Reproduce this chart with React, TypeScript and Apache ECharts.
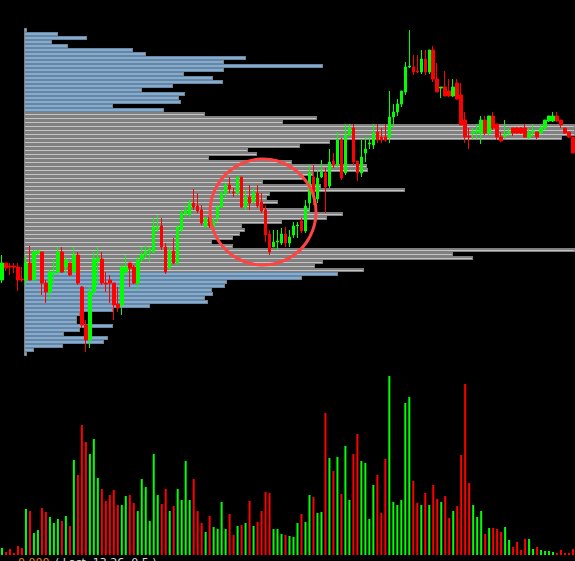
import React, { useEffect, useRef } from "react";
import * as echarts from "echarts";

// ---- candles (price) ----
const opens = [10.75,10.92,10.89,10.89,10.88,10.76,10.75,10.92,10.75,11.02,
11.03,10.72,10.63,10.82,10.83,11.03,10.88,10.92,10.83,11.00,
10.68,10.30,10.15,10.63,10.94,10.96,10.72,10.75,10.72,10.51,
10.50,10.83,10.92,10.88,10.72,10.96,11.00,11.04,11.03,11.26,
11.29,11.08,10.87,11.04,10.92,11.25,11.41,11.40,11.52,11.49,
11.45,11.28,11.38,11.28,11.37,11.48,11.62,11.70,11.63,11.62,
11.78,11.48,11.58,11.53,11.62,11.53,11.45,11.21,11.08,11.13,
11.12,11.21,11.12,11.20,11.29,11.34,11.24,11.52,11.78,11.56,
11.78,11.82,11.69,11.94,11.90,12.15,11.82,12.20,12.27,11.94,
11.82,12.02,12.11,12.10,12.23,12.18,12.18,12.18,12.38,12.43,
12.51,12.63,12.88,12.88,12.84,12.83,12.96,12.83,13.05,12.76,
12.67,12.68,12.64,12.59,12.72,12.60,12.35,12.19,12.22,12.23,
12.22,12.35,12.22,12.39,12.31,12.18,12.19,12.22,12.27,12.27,
12.27,12.27,12.18,12.23,12.23,12.22,12.27,12.34,12.34,12.39,
12.35,12.27,12.23,12.18];
const closes = [10.92,10.87,10.88,10.88,10.75,10.75,10.92,10.75,11.03,11.04,
10.72,10.63,10.83,10.83,11.03,10.83,10.95,10.80,11.00,10.72,
10.30,10.15,10.63,10.96,10.97,10.72,10.71,10.72,10.50,10.47,
10.88,10.88,10.87,10.72,10.95,11.00,11.04,11.06,11.28,11.28,
11.08,10.83,11.04,10.92,11.28,11.42,11.45,11.52,11.48,11.44,
11.32,11.37,11.29,11.34,11.48,11.62,11.70,11.66,11.62,11.78,
11.48,11.58,11.52,11.62,11.49,11.44,11.20,11.03,11.13,11.14,
11.21,11.12,11.18,11.29,11.30,11.24,11.49,11.82,11.58,11.77,
11.83,11.68,11.93,11.90,12.15,11.77,12.20,12.27,11.93,11.82,
11.98,12.06,12.12,12.22,12.15,12.15,12.15,12.38,12.43,12.51,
12.64,12.88,12.89,12.83,12.83,12.96,12.83,13.05,12.76,12.63,
12.68,12.59,12.59,12.68,12.56,12.30,12.18,12.18,12.23,12.24,
12.35,12.22,12.39,12.27,12.18,12.14,12.20,12.23,12.22,12.22,
12.22,12.18,12.22,12.24,12.18,12.27,12.35,12.39,12.39,12.34,
12.30,12.22,12.18,12.02];
const lows = [10.72,10.84,10.80,10.82,10.64,10.73,10.70,10.75,10.75,11.00,
10.60,10.52,10.55,10.70,10.80,10.82,10.82,10.79,10.82,10.70,
10.27,10.03,10.07,10.60,10.70,10.70,10.63,10.52,10.35,10.43,
10.40,10.80,10.68,10.71,10.65,10.93,10.97,10.93,11.02,11.23,
11.05,10.81,10.85,10.91,10.90,11.23,11.38,11.38,11.45,11.42,
11.30,11.27,11.27,11.26,11.33,11.47,11.58,11.62,11.58,11.60,
11.47,11.45,11.45,11.52,11.47,11.42,11.13,11.00,11.08,11.05,
11.10,11.08,11.08,11.17,11.17,11.22,11.22,11.45,11.50,11.52,
11.77,11.42,11.67,11.87,11.87,11.75,11.80,12.19,11.90,11.74,
11.78,11.93,12.06,12.06,12.12,12.12,12.13,12.12,12.27,12.39,
12.48,12.60,12.87,12.80,12.82,12.81,12.80,12.81,12.73,12.63,
12.57,12.59,12.58,12.58,12.55,12.30,12.12,12.06,12.16,12.16,
12.11,12.20,12.20,12.25,12.15,12.13,12.16,12.19,12.19,12.21,
12.21,12.17,12.15,12.19,12.16,12.21,12.25,12.33,12.33,12.33,
12.27,12.21,12.17,12.02];
const highs = [11.00,10.92,10.92,10.92,10.92,10.88,11.00,11.09,11.05,11.05,
11.03,10.75,10.85,10.95,11.08,11.08,10.98,10.92,11.08,11.03,
10.69,10.35,10.68,11.03,11.08,11.03,10.83,10.80,10.72,10.68,
10.90,11.00,10.92,10.90,10.98,11.08,11.10,11.08,11.37,11.40,
11.37,11.12,11.08,11.17,11.30,11.45,11.50,11.55,11.66,11.62,
11.50,11.38,11.40,11.37,11.50,11.65,11.72,11.78,11.67,11.78,
11.78,11.65,11.70,11.67,11.70,11.62,11.50,11.25,11.25,11.25,
11.27,11.28,11.25,11.33,11.33,11.37,11.55,11.90,11.90,11.85,
11.95,11.87,12.06,12.02,12.23,12.17,12.31,12.31,12.31,11.94,
12.15,12.18,12.18,12.31,12.31,12.27,12.31,12.64,12.51,12.56,
12.64,12.93,13.25,13.00,13.00,13.05,13.05,13.05,13.09,12.92,
12.68,12.84,12.76,12.76,12.76,12.72,12.43,12.27,12.27,12.31,
12.39,12.39,12.39,12.43,12.31,12.23,12.35,12.27,12.27,12.28,
12.28,12.31,12.27,12.31,12.23,12.31,12.35,12.39,12.43,12.43,
12.35,12.27,12.23,12.18];

// ---- volume per bar ----
const volumes = [7,3,6,2,9,7,46,44,22,25,
47,43,38,32,36,34,39,29,95,80,
130,113,101,116,77,66,54,60,65,50,
50,59,60,52,44,76,68,34,101,60,
51,66,44,49,66,55,94,55,76,44,
32,23,39,28,26,53,26,41,20,29,
30,32,54,29,33,44,63,62,26,26,
21,20,19,18,32,41,33,60,58,42,
43,142,97,84,98,61,109,55,101,121,
94,92,36,70,80,42,96,179,53,50,
55,152,158,74,52,50,62,50,70,56,
53,59,37,44,49,100,171,72,50,38,
44,21,27,27,26,23,28,15,8,13,
5,16,16,6,8,5,4,4,3,2,
5,2,2,6];

// ---- volume profile (rows from highest price to lowest) ----
const profileVolumes = [2,33,62,27,43,108,121,221,199,298,
199,159,188,198,148,117,160,154,156,88,
139,180,292,258,550,550,550,537,305,275,
223,232,184,267,342,343,288,279,238,296,
380,245,242,253,235,285,318,302,257,217,
220,215,208,187,208,550,428,448,298,290,
339,313,277,202,200,187,188,180,183,125,
88,55,52,52,88,55,39,83,79,38,
9,2];
const valueAreaFirstRow = 21;
const valueAreaLastRow = 60;

const bottomLabelA = "0.000";
const bottomLabelB = "( Last  13.26  0.5 )";

export default function App() {
  const ref = useRef<HTMLDivElement>(null);
  useEffect(() => {
    if (!ref.current) return;
    const chart = echarts.init(ref.current, null, { renderer: "svg" });
    const cats = opens.map((_, i) => String(i + 1));
    const rows = profileVolumes.map((_, i) => "r" + i);
    const candleData = opens.map((o, i) => [o, closes[i], lows[i], highs[i]]);
    const GREEN = "#00ff00";
    const RED = "#ff0000";
    const volData = volumes.map((v, i) => ({
      value: v,
      itemStyle: { color: closes[i] >= opens[i] ? GREEN : RED },
    }));
    const profData = profileVolumes.map((v, i) => [v, i]);
    const hiddenAxis = {
      axisLine: { show: false },
      axisTick: { show: false },
      axisLabel: { show: false },
      splitLine: { show: false },
    };
    chart.setOption({
      animation: false,
      backgroundColor: "#000000",
      grid: [
        { left: -1, width: 576, top: 25, height: 330 },
        { left: -1, width: 576, top: 375, height: 180 },
        { left: 25, right: 0, top: 28, height: 328 },
      ],
      xAxis: [
        { type: "category", data: cats, gridIndex: 0, boundaryGap: true, ...hiddenAxis },
        { type: "category", data: cats, gridIndex: 1, boundaryGap: true, ...hiddenAxis },
        { type: "value", gridIndex: 2, min: 0, max: 550, ...hiddenAxis },
      ],
      yAxis: [
        { type: "value", gridIndex: 0, min: 10.0, max: 13.3, ...hiddenAxis },
        { type: "value", gridIndex: 1, min: 0, max: 180, ...hiddenAxis },
        { type: "category", gridIndex: 2, data: rows, inverse: true, ...hiddenAxis },
      ],
      series: [
        {
          type: "custom",
          xAxisIndex: 2,
          yAxisIndex: 2,
          data: profData,
          z: 1,
          silent: true,
          encode: { x: 0, y: 1 },
          renderItem: (params: any, api: any) => {
            const v = api.value(0);
            const row = api.value(1);
            const start = api.coord([0, row]);
            const end = api.coord([v, row]);
            const h = api.size([0, 1])[1];
            const top = Math.round(start[1] - h / 2);
            const x0 = Math.round(start[0]);
            const w = Math.max(2, Math.round(end[0] - start[0]));
            const inVA = row >= valueAreaFirstRow && row <= valueAreaLastRow;
            const fillH = inVA ? 1 : 2;
            const fillY = inVA ? top + 2 : top + 1;
            return {
              type: "group",
              children: [
                {
                  type: "rect",
                  shape: { x: x0 - 1, y: top, width: w + 1, height: h },
                  style: { fill: "#808080" },
                },
                {
                  type: "rect",
                  shape: { x: x0, y: fillY, width: w - 1, height: fillH },
                  style: { fill: inVA ? "#c4c4c4" : "#6cb2f2" },
                },
              ],
            };
          },
        },
        {
          type: "candlestick",
          xAxisIndex: 0,
          yAxisIndex: 0,
          data: candleData,
          barWidth: 3,
          z: 5,
          itemStyle: {
            color: GREEN,
            color0: RED,
            borderColor: GREEN,
            borderColor0: RED,
            borderWidth: 1,
          },
        },
        {
          type: "bar",
          xAxisIndex: 1,
          yAxisIndex: 1,
          data: volData,
          barWidth: 2,
          z: 5,
        },
      ],
      graphic: [
        {
          type: "circle",
          shape: { cx: 263, cy: 212, r: 53 },
          style: { fill: "none", stroke: "#ff4242", lineWidth: 3 },
          z: 100,
        },
        {
          type: "text",
          left: 18,
          top: 557,
          style: { text: bottomLabelA, fill: "#e08020", font: "11px 'DejaVu Sans'" },
          z: 100,
        },
        {
          type: "text",
          left: 55,
          top: 557,
          style: { text: bottomLabelB, fill: "#d8d8d8", font: "11px 'DejaVu Sans'" },
          z: 100,
        },
      ],
    });
    return () => chart.dispose();
  }, []);
  return (
    <div
      ref={ref}
      style={{ position: "fixed", left: 0, top: 0, width: 575, height: 561, background: "#000" }}
    />
  );
}
